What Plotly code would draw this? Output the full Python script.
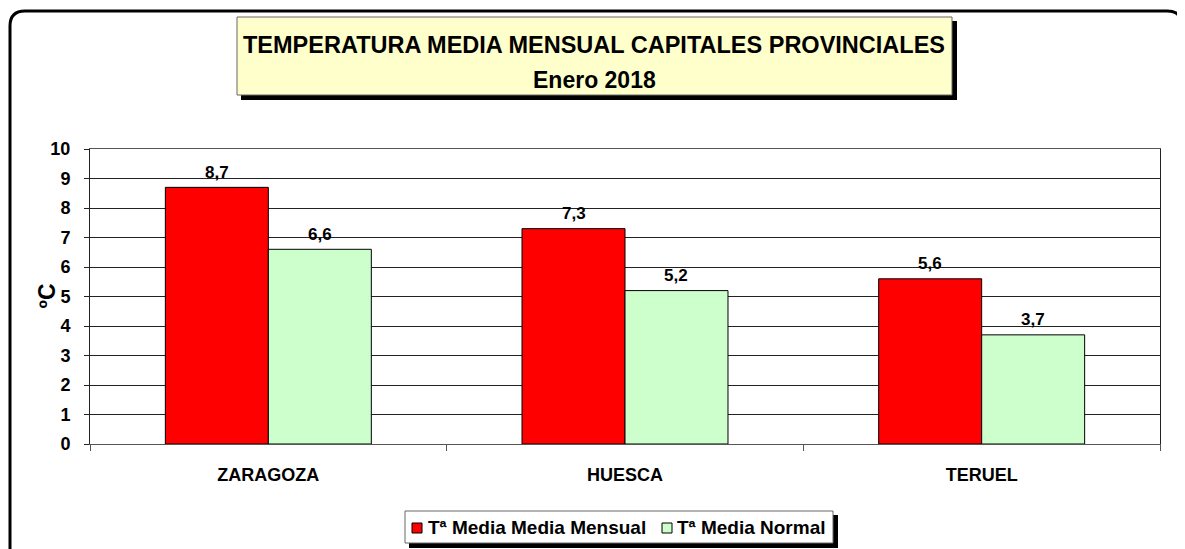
import plotly.graph_objects as go

ciudades = ['ZARAGOZA', 'HUESCA', 'TERUEL']
series = ['Tª Media Media Mensual', 'Tª Media Normal']
media_mensual = [8.7, 7.3, 5.6]
media_normal = [6.6, 5.2, 3.7]
colores = ['#FF0000', '#CCFFCC']
y_ticks = list(range(0, 11))

# the page body has an 8px margin, so positions below are page pixels
OFF = 8
L, R, T, B = 90, 1160, 149, 444
W, H = R - L, B - T
FIG_W, FIG_H = 1185 - OFF, 549 - OFF
BARGAP = 0.4225


def px(x):
    return (x - L) / W


def py(y):
    return (B - y) / H


def fmt(v):
    return f'{v:.1f}'.replace('.', ',')


fig = go.Figure()
for nombre, vals, col in zip(series, [media_mensual, media_normal], colores):
    fig.add_trace(go.Bar(x=ciudades, y=vals, name=nombre, showlegend=False,
                         marker=dict(color=col, line=dict(color='black', width=1))))

# value labels above the bars
bar_px = (1 - BARGAP) * W / len(ciudades) / 2
annotations = []
for k, vals in enumerate([media_mensual, media_normal]):
    for c, v in zip(ciudades, vals):
        annotations.append(dict(x=c, y=v, xref='x', yref='y', text=f'<b>{fmt(v)}</b>',
                                showarrow=False, xshift=(k - 0.5) * bar_px, yshift=15,
                                yanchor='middle', font=dict(size=17)))

# title
annotations.append(dict(xref='paper', yref='paper', x=px(594), y=py(45), showarrow=False,
                        yanchor='middle', text='<b>TEMPERATURA MEDIA MENSUAL CAPITALES PROVINCIALES</b>',
                        font=dict(size=23.5)))
annotations.append(dict(xref='paper', yref='paper', x=px(594), y=py(80), showarrow=False,
                        yanchor='middle', text='<b>Enero 2018</b>', font=dict(size=23)))
# y axis title
annotations.append(dict(xref='paper', yref='paper', x=px(31), y=0.5, showarrow=False,
                        text='<b>ºC</b>', textangle=-90, font=dict(size=23)))

# rounded outer frame
r = 15
x0, x1, y0, y1 = 10, 1182, 11, 600
path = (f'M {px(x0)},{py(y1)} L {px(x0)},{py(y0 + r)} '
        f'Q {px(x0)},{py(y0)} {px(x0 + r)},{py(y0)} '
        f'L {px(x1 - r)},{py(y0)} Q {px(x1)},{py(y0)} {px(x1)},{py(y0 + r)} '
        f'L {px(x1)},{py(y1)}')


def rect(a, b, c, d, fill, line=None):
    return dict(type='rect', xref='paper', yref='paper', x0=px(a), x1=px(b), y0=py(d), y1=py(c),
                fillcolor=fill, line=line or dict(width=0))


shapes = [
    dict(type='path', xref='paper', yref='paper', path=path,
         line=dict(color='black', width=3)),
    # title box
    rect(241, 957, 21, 100, 'black'),
    rect(237, 952, 17, 95, '#FFFFCC', dict(color='#666666', width=1)),
    # legend box
    rect(409, 838, 515, 548, 'black'),
    rect(405, 833, 511, 543, 'white', dict(color='#666666', width=1)),
]

# legend entries
leg = [(412, 428), (662, 677)]
for (sx, tx), nombre, col in zip(leg, series, colores):
    shapes.append(rect(sx, sx + 10, 523, 533, col, dict(color='black', width=1)))
    annotations.append(dict(xref='paper', yref='paper', x=px(tx - 2), y=py(527),
                            xanchor='left', yanchor='middle', showarrow=False,
                            text=f'<b>{nombre}</b>', font=dict(size=19)))

fig.update_layout(
    width=FIG_W, height=FIG_H,
    margin=dict(l=L - OFF, r=FIG_W - (R - OFF), t=T - OFF, b=FIG_H - (B - OFF)),
    paper_bgcolor='white', plot_bgcolor='white',
    font=dict(family='Arial', size=13, color='black'),
    barmode='group', bargap=BARGAP, bargroupgap=0,
    shapes=shapes, annotations=annotations,
    showlegend=False,
)
fig.update_xaxes(showline=True, linecolor='#555555', mirror=True,
                 ticks='outside', tickson='boundaries', ticklen=6, tickcolor='#555555',
                 tickfont=dict(family='Arial', size=18, weight='bold'),
                 ticklabelstandoff=14)
fig.update_yaxes(range=[0, 10], tickvals=y_ticks, showline=True, linecolor='#222222', mirror=True,
                 showgrid=True, gridcolor='#222222', gridwidth=1, zeroline=False,
                 ticks='outside', ticklen=5, tickcolor='#222222',
                 tickfont=dict(family='Arial', size=18, weight='bold'),
                 ticklabelstandoff=10)

fig.write_html('out.html')
